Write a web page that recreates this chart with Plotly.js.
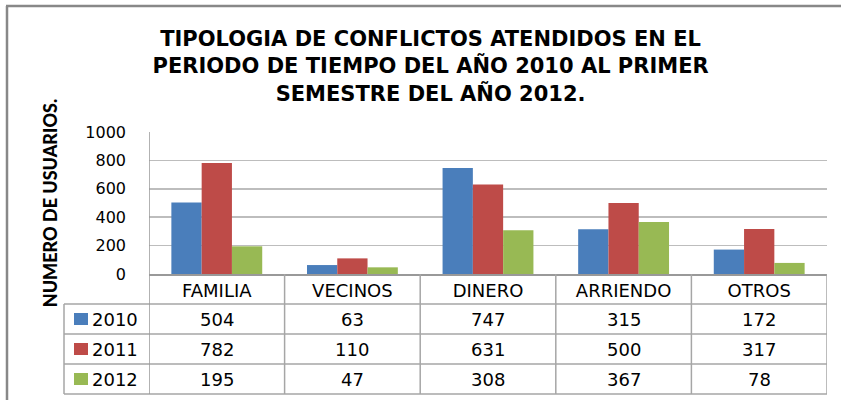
<!DOCTYPE html>
<html>
<head>
<meta charset="utf-8">
<script src="https://cdn.plot.ly/plotly-3.0.1.min.js"></script>
<style>
html,body{margin:0;padding:0;background:#fff;}
#chart{width:841px;height:400px;}
</style>
</head>
<body>
<div id="chart"></div>
<script>
// ---- data ----
var categories = ["FAMILIA", "VECINOS", "DINERO", "ARRIENDO", "OTROS"];
var seriesNames = ["2010", "2011", "2012"];
var values2010 = [504, 63, 747, 315, 172];
var values2011 = [782, 110, 631, 500, 317];
var values2012 = [195, 47, 308, 367, 78];
var yTicks = [0, 200, 400, 600, 800, 1000];
var titleLines = ["TIPOLOGIA DE CONFLICTOS ATENDIDOS EN EL", "PERIODO DE TIEMPO DEL AÑO 2010 AL PRIMER", "SEMESTRE DEL AÑO 2012."];
var yTitle = "NUMERO DE USUARIOS.";

// ---- styling ----
var colors = ["#4A7EBB", "#BE4B48", "#98B954"];
var W = 841, H = 400;
var ML = 149, MR = 14, MT = 132, MB = 126;
var plotW = W - ML - MR, plotH = H - MT - MB;
function py(p) { return (H - MB - p) / plotH; }   // pixel y -> paper y
function px(p) { return (p - ML) / plotW; }         // pixel x -> paper x
var tableFont = {family: "DejaVu Sans, Verdana, sans-serif", size: 18, color: "#000"};
var lineCol = "#A6A6A6";

var allSeries = [values2010, values2011, values2012];
var traces = allSeries.map(function (vals, i) {
  return {type: "bar", x: categories, y: vals, name: seriesNames[i],
          marker: {color: colors[i], line: {width: 0}}, hoverinfo: "skip"};
});

// table geometry (pixel rows)
var rowTop = [304, 334, 364];
var rowH = 30;
var tableBottom = 394;
var legendLeft = 64;

var shapes = [];
var annotations = [];
function hline(y, x0, x1) {
  shapes.push({type: "line", xref: "paper", yref: "paper", x0: px(x0), x1: px(x1), y0: py(y), y1: py(y),
               line: {color: lineCol, width: 1.5}});
}
// horizontal table lines
hline(304, legendLeft, W - MR);
hline(334, legendLeft, W - MR);
hline(364, legendLeft, W - MR);
hline(tableBottom, legendLeft, W - MR);
// vertical lines at category boundaries (data coords of category axis)
for (var i = 0; i <= categories.length; i++) {
  shapes.push({type: "line", xref: "x", yref: "paper", x0: i - 0.5, x1: i - 0.5,
               y0: i === 0 ? 1 : 0, y1: py(tableBottom), line: {color: i === 0 ? "#999" : lineCol, width: 1.5}});
}
// legend column left border
shapes.push({type: "line", xref: "paper", yref: "paper", x0: px(legendLeft), x1: px(legendLeft),
             y0: py(304), y1: py(tableBottom), line: {color: lineCol, width: 1.5}});
// outer frame
shapes.push({type: "line", xref: "paper", yref: "paper", x0: px(7), x1: px(7), y0: py(6), y1: py(H + 5),
             line: {color: "#888", width: 2.5}});
shapes.push({type: "line", xref: "paper", yref: "paper", x0: px(6), x1: px(W + 5), y0: py(6), y1: py(6),
             line: {color: "#888", width: 2.5}});

// table rows: legend keys + values
for (var s = 0; s < seriesNames.length; s++) {
  var yc = rowTop[s] + rowH / 2;
  shapes.push({type: "rect", xref: "paper", yref: "paper", x0: px(74), x1: px(88),
               y0: py(yc - 6), y1: py(yc + 6), fillcolor: colors[s], line: {width: 0}});
  annotations.push({xref: "paper", yref: "paper", x: px(90), y: py(yc), xanchor: "left", yanchor: "middle",
                    text: seriesNames[s], showarrow: false, font: tableFont});
  for (var c = 0; c < categories.length; c++) {
    annotations.push({xref: "x", yref: "paper", x: categories[c], y: py(yc), xanchor: "center", yanchor: "middle",
                      text: String(allSeries[s][c]), showarrow: false, font: tableFont});
  }
}

var layout = {
  width: W, height: H,
  margin: {l: ML, r: MR, t: MT, b: MB, pad: 0},
  paper_bgcolor: "#fff", plot_bgcolor: "#fff",
  showlegend: false,
  barmode: "group", bargap: 0.33, bargroupgap: 0,
  title: {text: titleLines.join("<br>"), x: 0.512, xanchor: "center", xref: "container",
          y: 0.885, yanchor: "top", yref: "container",
          font: {family: "DejaVu Sans, sans-serif", size: 21, weight: "bold", color: "#000"}},
  xaxis: {type: "category", range: [-0.5, categories.length - 0.5], showgrid: false, zeroline: false,
          showline: true, linecolor: "#999", linewidth: 1.5, ticks: "", ticklabelstandoff: 0,
          tickfont: tableFont, fixedrange: true},
  yaxis: {range: [0, 1000], tickvals: yTicks, ticktext: yTicks.map(String), showgrid: true,
          gridcolor: "#BDBDBD", gridwidth: 1.5, zeroline: false, showline: false, ticks: "",
          ticklabelstandoff: 22, tickfont: {family: "DejaVu Sans, Verdana, sans-serif", size: 16, color: "#000"},
          title: {text: yTitle, standoff: 22,
                  font: {family: "Liberation Sans Narrow, Lato, sans-serif", size: 18, weight: 900, color: "#000"}},
          fixedrange: true},
  shapes: shapes,
  annotations: annotations
};

Plotly.newPlot("chart", traces, layout, {displayModeBar: false, staticPlot: true});
</script>
</body>
</html>
